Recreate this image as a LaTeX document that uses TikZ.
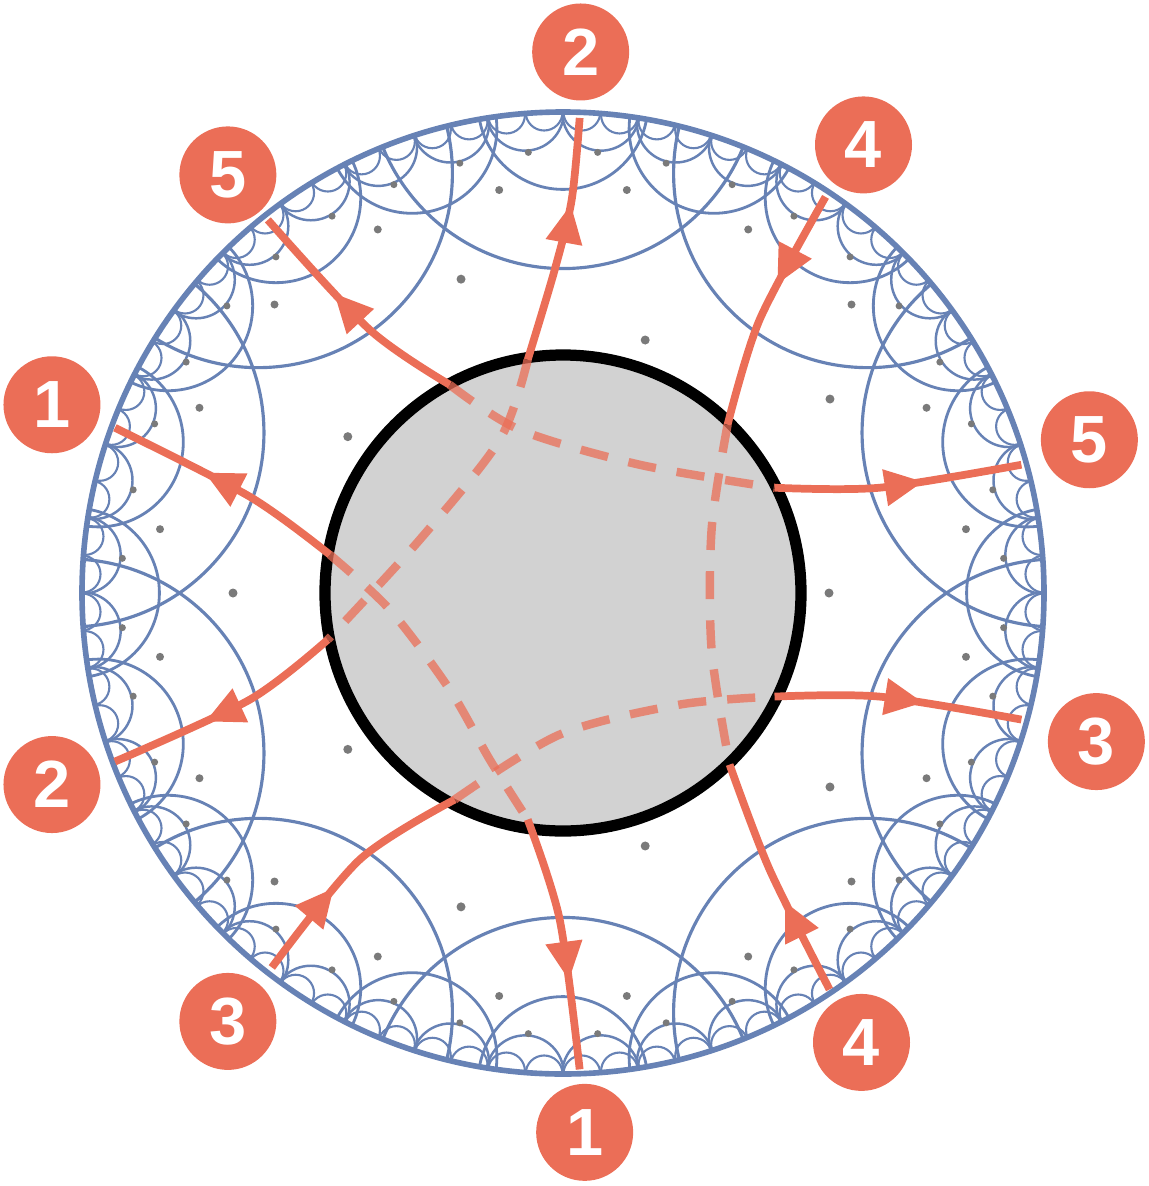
\documentclass[tikz,border=0pt]{standalone}
\usepackage{fontspec}
\setmainfont{Liberation Sans}
\usetikzlibrary{arrows.meta,decorations.markings}
\definecolor{orng}{HTML}{EB6E57}
\definecolor{blu}{HTML}{6782B5}
\definecolor{dotc}{HTML}{7A7A7A}
\tikzset{
  seg/.style={draw=orng,line width=2.2pt},
  outarr/.style={postaction={decorate,decoration={markings,mark=at position #1 with {\arrow{Triangle[length=11pt,width=10pt]}}}}},
  inarr/.style={postaction={decorate,decoration={markings,mark=at position #1 with {\arrowreversed{Triangle[length=11pt,width=10pt]}}}}},
  dsh/.style={draw=orng,line width=2.4pt,opacity=0.75,dash pattern=on 8pt off 6pt},
  lbl/.style={circle,fill=orng,minimum size=0.97cm,inner sep=0pt,text=white,font=\bfseries\fontsize{19}{19}\selectfont}
}
\begin{document}
\begin{tikzpicture}
\useasboundingbox (0,0) rectangle (11.49,-11.86);
\begin{scope}[shift={(5.63,-5.93)}]
  \begin{scope}
    \clip (0,0) circle (4.81);
    \foreach \n/\a/\o/\w in {10/22/18/0.9, 20/10/0/0.8, 40/4.6/4.5/0.7, 80/2.2/2.25/0.6}{
      \foreach \k in {1,...,\n}{
        \pgfmathsetmacro\th{360/\n*\k+\o}
        \draw[blu,line width=\w pt] (\th:{4.81/cos(\a)}) circle ({4.81*tan(\a)});
      }
    }
  \end{scope}
  \draw[blu,line width=1.6pt] (0,0) circle (4.81);
  \foreach \k in {0,...,4}{
    \fill[dotc] ({72*\k}:2.66) circle (0.045);
    \fill[dotc] ({72*\k+36}:3.3) circle (0.045);
  }
  \foreach \k in {0,...,19}{\fill[dotc] ({18*\k+9}:4.08) circle (0.04);}
  \foreach \k in {0,...,39}{\fill[dotc] ({9*\k+4.5}:4.42) circle (0.035);}
  \fill[gray!35,draw=black,line width=3.2pt] (0,0) circle (2.38);
\end{scope}
\begin{scope}[x=0.01cm,y=-0.01cm]
  % path 1
  \draw[seg,outarr=0.6] plot[smooth] coordinates {(330,555)(250,497)(115,428)};
  \draw[seg,outarr=0.65] plot[smooth] coordinates {(528,820)(560,920)(580,1070)};
  \draw[dsh] plot[smooth] coordinates {(330,555)(390,610)(450,690)(490,760)(528,820)};
  % path 2
  \draw[seg,outarr=0.65] plot[smooth] coordinates {(528,360)(555,270)(572,200)(580,118)};
  \draw[seg,outarr=0.6] plot[smooth] coordinates {(328,640)(250,700)(115,762)};
  \draw[dsh] plot[smooth] coordinates {(528,360)(500,440)(420,540)(328,640)};
  % path 5
  \draw[seg,outarr=0.6] plot[smooth] coordinates {(450,385)(370,330)(268,220)};
  \draw[seg,outarr=0.6] plot[smooth] coordinates {(775,488)(880,488)(1022,465)};
  \draw[dsh] plot[smooth] coordinates {(450,385)(520,430)(640,465)(775,488)};
  % path 4
  \draw[seg,inarr=0.6] plot[smooth] coordinates {(728,425)(760,320)(826,197)};
  \draw[seg,inarr=0.6] plot[smooth] coordinates {(730,765)(770,870)(830,990)};
  \draw[dsh] plot[smooth] coordinates {(728,425)(712,530)(712,650)(730,765)};
  % path 3
  \draw[seg,inarr=0.6] plot[smooth] coordinates {(455,800)(360,860)(272,968)};
  \draw[seg,outarr=0.6] plot[smooth] coordinates {(775,697)(880,697)(1022,720)};
  \draw[dsh] plot[smooth] coordinates {(455,800)(560,735)(680,705)(775,697)};
  % labels
  \node[lbl] (l1a) at (52,405) {1};
  \node[lbl] (l1b) at (585,1133) {1};
  \node[lbl] (l2a) at (581,52) {2};
  \node[lbl] (l2b) at (52,785) {2};
  \node[lbl] (l3a) at (1097,742) {3};
  \node[lbl] (l3b) at (228,1022) {3};
  \node[lbl] (l4a) at (864,145) {4};
  \node[lbl] (l4b) at (862,1043) {4};
  \node[lbl] (l5a) at (228,175) {5};
  \node[lbl] (l5b) at (1090,440) {5};
\end{scope}
\end{tikzpicture}
\end{document}
